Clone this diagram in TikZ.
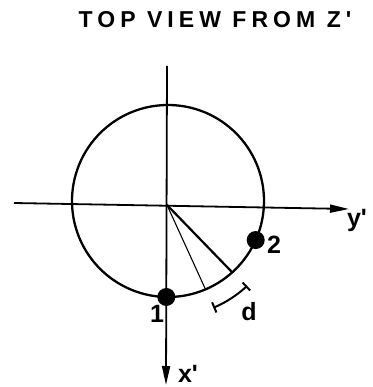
\documentclass[tikz,border=0pt]{standalone}
\usepackage{fontspec}
\setmainfont{Liberation Sans}[Ligatures=TeXOff]
\usetikzlibrary{arrows.meta, calc}
\tikzset{
    axis_line/.style={
        draw=black, line width=1.8pt,
        -{Triangle[length=19pt, width=8pt]}
    },
    rim_line/.style={
        draw=black, line width=2.3pt
    },
    ray_thick/.style={
        draw=black, line width=2.2pt, line cap=round
    },
    ray_thin/.style={
        draw=black, line width=1.1pt, line cap=round
    },
    dim_arc/.style={
        draw=black, line width=2pt,
        {Bar[width=11pt, line width=2pt]}-{Bar[width=11pt, line width=2pt]}
    },
    pt_dot/.style={
        circle, fill=black, inner sep=0pt, minimum size=18pt
    },
    lbl/.style={
        font=\fontsize{25}{28}\selectfont\bfseries, inner sep=0pt
    },
    title_txt/.style={
        font=\fontsize{23}{26}\selectfont\bfseries\addfontfeature{LetterSpace=22}, inner sep=0pt
    }
}

\begin{document}
\begin{tikzpicture}[x=1pt, y=-1pt]
    \useasboundingbox (0,0) rectangle (372,387);

    % --- Title ---
    \node[title_txt] (title) at (215,20) {TOP VIEW FROM Z'};

    % --- Centres ---
    \coordinate (O) at (167,205);
    \coordinate (C) at (168,201);

    % --- Axes ---
    \coordinate (xtop) at (167,66);
    \coordinate (xtip) at (166,385);
    \coordinate (yleft) at (14,203);
    \coordinate (ytip) at (349,209);
    \draw[axis_line] (xtop) -- (xtip);
    \draw[axis_line] (yleft) -- (ytip);

    % --- Rim ---
    \draw[rim_line] (C) circle[radius=96pt];

    % --- Rays ---
    \coordinate (rthick) at ($(C)+(-48:96pt)$);
    \coordinate (rthin) at ($(C)+(-67:96pt)$);
    \draw[ray_thick] (O) -- (rthick);
    \draw[ray_thin] (O) -- (rthin);

    % --- Spacing d ---
    \coordinate (dstart) at ($(C)+(-67:116pt)$);
    \draw[dim_arc] (dstart) arc[start angle=-67, end angle=-47, radius=116pt];
    \node[lbl] (dlbl) at (249,312) {d};

    % --- Points ---
    \node[pt_dot] (p1) at ($(C)+(-91:96pt)$) {};
    \node[pt_dot] (p2) at ($(C)+(-24:96pt)$) {};
    \node[lbl] (one) at (157,314) {1};
    \node[lbl] (two) at (274,245) {2};

    % --- Axis names ---
    \node[lbl] (ylbl) at (357,220) {y'};
    \node[lbl] (xlbl) at (188,374) {x'};

\end{tikzpicture}
\end{document}
